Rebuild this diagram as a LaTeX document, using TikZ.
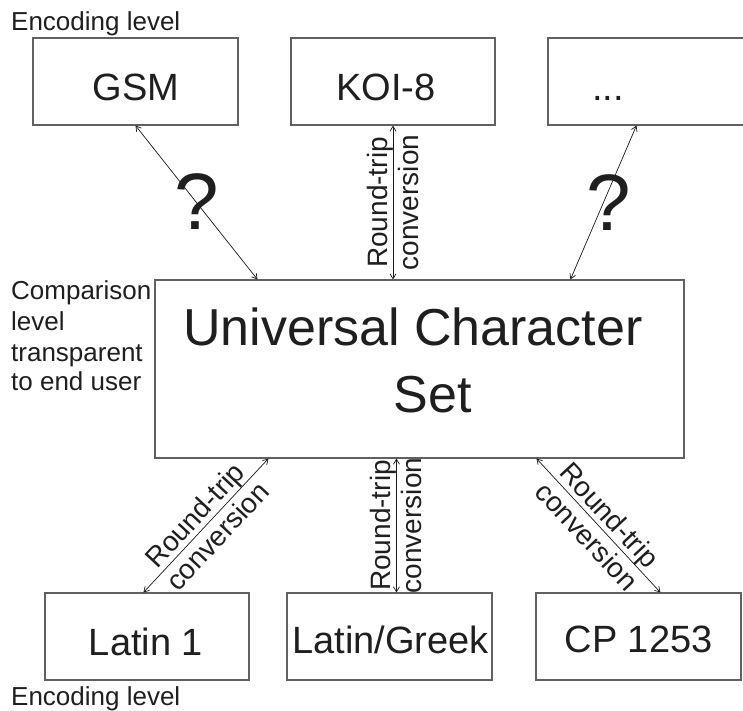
\documentclass[tikz,border=0pt]{standalone}
\usepackage{fontspec}
\setmainfont{Liberation Sans}
\usetikzlibrary{arrows.meta,calc}
\begin{document}
\begin{tikzpicture}[x=1pt,y=-1pt,
  box/.style={draw=black!62, line width=1.1pt, inner sep=0pt},
  conn/.style={draw=black!90, line width=0.7pt, {Straight Barb[length=5pt,width=6pt]}-{Straight Barb[length=5pt,width=6pt]}},
  big/.style={font=\fontsize{38}{44}\selectfont, inner sep=0pt, anchor=base, text=black!88},
  small/.style={font=\fontsize{26}{30}\selectfont, inner sep=0pt, anchor=base west, text=black!88},
  arrlab/.style={font=\fontsize{28}{31}\selectfont, align=center, inner sep=0pt, sloped, text=black!88},
  qmark/.style={font=\fontsize{80}{90}\selectfont, inner sep=0pt, text=black!88}
]
\clip (0,0) rectangle (743,710);
\fill[white] (0,0) rectangle (743,710);

% boxes
\node[box, minimum width=205pt, minimum height=87pt] (gsm) at (135.5,81.5) {};
\node[box, minimum width=204pt, minimum height=87pt] (koi) at (393,81.5) {};
\node[box, minimum width=205pt, minimum height=87pt] (etc) at (650.5,81.5) {};
\node[box, minimum width=529pt, minimum height=178pt] (ucs) at (419.5,369) {};
\node[box, minimum width=204pt, minimum height=87pt] (lat1) at (147,636.5) {};
\node[box, minimum width=205pt, minimum height=87pt] (latgr) at (389.5,636.5) {};
\node[box, minimum width=205pt, minimum height=87pt] (cp) at (638.5,636.5) {};

% box texts
\node[big] (tgsm) at (136,100) {GSM};
\node[big] (tkoi) at (386,100) {KOI-8};
\node[big] (tetc) at (608,100) {...};
\node[big] (tlat1) at (146,655) {Latin 1};
\node[big, anchor=base west] (tlatgr) at (292,653) {Latin/Greek};
\node[big] (tcp) at (638.5,652) {CP 1253};
\node[font=\fontsize{52}{60}\selectfont, anchor=base west, inner sep=0pt, text=black!88] (tu1) at (183,345) {Universal Character};
\node[font=\fontsize{52}{60}\selectfont, anchor=base, inner sep=0pt, text=black!88] (tu2) at (433,412) {Set};

% side labels
\node[small] (enc1) at (11,30) {Encoding level};
\node[small] (cmp1) at (11,299) {Comparison};
\node[small] (cmp2) at (11,330) {level};
\node[small] (cmp3) at (11,361) {transparent};
\node[small] (cmp4) at (11,390) {to end user};
\node[small] (enc2) at (11,705) {Encoding level};

% connector end points
\coordinate (gB) at ($(ucs.north west)+(103,0)$);
\coordinate (eA) at ($(etc.south west)+(89,0)$);
\coordinate (eB) at ($(ucs.north west)+(416,0)$);
\coordinate (kB) at (ucs.north -| koi.south);
\coordinate (lA) at ($(lat1.north west)+(99,0)$);
\coordinate (lB) at ($(ucs.south west)+(114,0)$);
\coordinate (mA) at ($(latgr.north west)+(110,0)$);
\coordinate (mB) at (ucs.south -| mA);
\coordinate (cA) at ($(ucs.south west)+(382,0)$);
\coordinate (cB) at ($(cp.north west)+(125,0)$);

% connectors
\draw[conn] (gsm.south) -- (gB);
\draw[conn] (eA) -- (eB);
\draw[conn] (kB) -- node[arrlab] (lk) {Round-trip\\conversion} (koi.south);
\draw[conn] (lA) -- node[arrlab] (ll) {Round-trip\\conversion} (lB);
\draw[conn] (mA) -- node[arrlab] (lm) {Round-trip\\conversion} (mB);
\draw[conn] (cA) -- node[arrlab] (lc) {Round-trip\\conversion} (cB);

% question marks
\node[qmark] (q1) at (197,202) {?};
\node[qmark] (q2) at (609,203) {?};
\end{tikzpicture}
\end{document}
